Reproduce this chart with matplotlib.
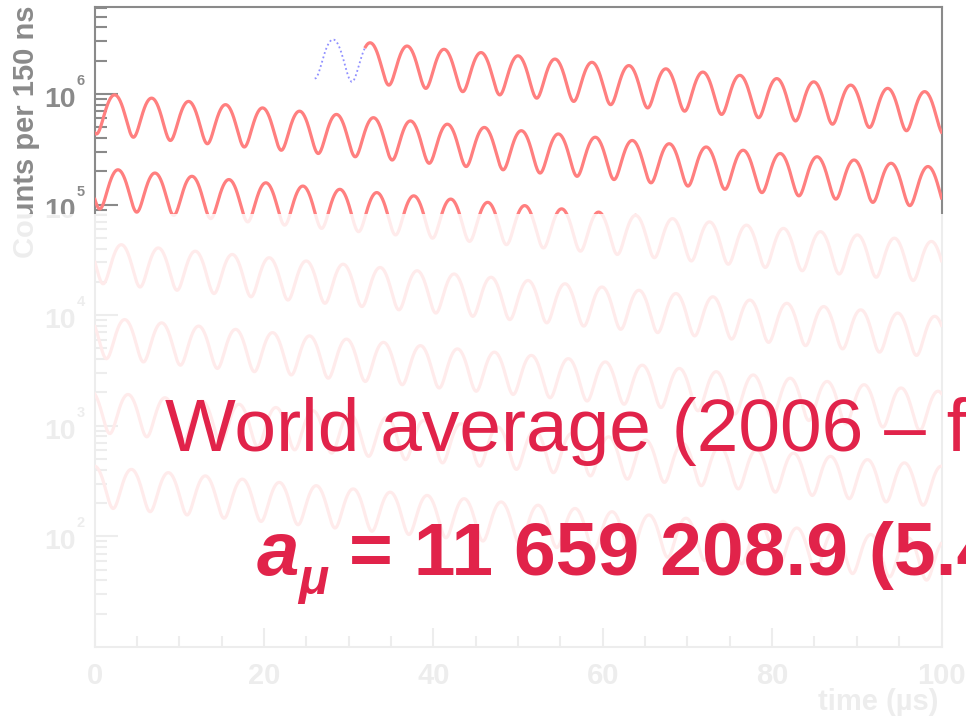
import numpy as np
import matplotlib
matplotlib.use("Agg")
import matplotlib.pyplot as plt
from matplotlib.patches import Rectangle
from matplotlib.ticker import LogLocator, MultipleLocator, NullFormatter

# wiggle fit parameters
n0 = 3.43e6          # counts per 150 ns bin at t = 0
tau_us = 64.4        # dilated muon lifetime
asym = 0.40
period_us = 4.365    # g-2 precession period
t_peak_us = 102.4    # time of one of the maxima
t_data_start = 26.0
t_fit_start = 32.0
t_end = 700.0
bin_us = 0.150
row_us = 100.0

x_ticks = [0, 20, 40, 60, 80, 100]
y_ticks = [1e2, 1e3, 1e4, 1e5, 1e6]
y_tick_exps = ["2", "3", "4", "5", "6"]
y_range = (10, 6.1e6)

title_line = "World average (2006 \u2013 final)"
value_line = "= 11 659 208.9 (5.4) (3.3) \u00d7 10\u207b\u00b9\u2070"
ref_line = "E821: Phys. Rev. D73, 072003 (2006)"

plt.rcParams["font.family"] = ["Liberation Sans", "DejaVu Sans"]

GREY = "#8a8a8a"
RED = "#ff7f7f"
BLUE = "#8f8fff"
CRIMSON = "#e1234a"
W, H = 966, 716


def counts(t):
    return n0 * np.exp(-t / tau_us) * (1 + asym * np.cos(2 * np.pi * (t - t_peak_us) / period_us))


fig = plt.figure(figsize=(W / 100, H / 100), dpi=100)
ax = fig.add_axes([94.5 / W, 1 - 647 / H, 847 / W, 640 / H])

t_data = np.arange(t_data_start, t_end, bin_us)
t_fit = np.arange(t_fit_start, t_end, 0.05)
n_rows = int(np.ceil(t_end / row_us))
for r in range(n_rows):
    lo, hi = r * row_us, (r + 1) * row_us
    m = (t_data >= lo) & (t_data <= hi)
    if m.any():
        ax.plot(t_data[m] - lo, counts(t_data[m]), color=BLUE, lw=1.3,
                ls=(0, (1, 1.5)), zorder=2)
    m = (t_fit >= lo) & (t_fit <= hi)
    if m.any():
        ax.plot(t_fit[m] - lo, counts(t_fit[m]), color=RED, lw=2.3, zorder=3)

ax.set_yscale("log")
ax.set_xlim(0, row_us)
ax.set_ylim(*y_range)
ax.set_xticks(x_ticks)
ax.set_xticklabels([str(v) for v in x_ticks])
ax.xaxis.set_minor_locator(MultipleLocator(5))
ax.set_yticks(y_ticks)
ax.set_yticklabels([])
ax.yaxis.set_minor_locator(LogLocator(base=10, subs=np.arange(2, 10), numticks=50))
ax.yaxis.set_minor_formatter(NullFormatter())

for s in ax.spines.values():
    s.set_color(GREY)
    s.set_linewidth(1.5)
ax.tick_params(which="both", direction="in", color=GREY, width=1.5,
               top=False, right=False)
ax.tick_params(axis="y", which="major", length=16.5, pad=6)
ax.tick_params(axis="y", which="minor", length=8.5)
ax.tick_params(axis="x", which="major", length=13.5, pad=11)
ax.tick_params(axis="x", which="minor", length=8)
for lab in ax.get_xticklabels():
    lab.set_color(GREY)
    lab.set_fontsize(21)
    lab.set_fontweight("bold")

# ROOT-style "10^n" labels: big mantissa, small exponent
ytf = ax.get_yaxis_transform()
for val, ex in zip(y_ticks, y_tick_exps):
    ax.annotate("10", xy=(0, val), xycoords=ytf, xytext=(-19, -13),
                textcoords="offset pixels", ha="right", va="baseline",
                fontsize=20.5, fontweight="bold", color=GREY, annotation_clip=False)
    ax.annotate(ex, xy=(0, val), xycoords=ytf, xytext=(-18, 9),
                textcoords="offset pixels", ha="left", va="baseline",
                fontsize=10.5, fontweight="bold", color=GREY, annotation_clip=False)

fig.text(26 / W, 1 - 5 / H, "Counts per 150 ns", rotation=90, ha="center", va="top",
         fontsize=21, fontweight="bold", color=GREY)
fig.text(938 / W, 1 - 710 / H, "time (\u00b5s)", ha="right", va="baseline",
         fontsize=21, fontweight="bold", color=GREY)

# white veil over the lower part of the plot
veil = Rectangle((0, 0), 1, 1 - 214 / H, transform=fig.transFigure,
                 facecolor="white", edgecolor="none", alpha=0.85, zorder=5)
fig.add_artist(veil)

fig.text(165 / W, 1 - 451 / H, title_line, ha="left", va="baseline",
         fontsize=54, color=CRIMSON, zorder=10)
fig.text(257 / W, 1 - 575 / H, "a", ha="left", va="baseline", fontsize=55,
         fontweight="bold", fontstyle="italic", color=CRIMSON, zorder=10)
fig.text(298 / W, 1 - 594 / H, "\u03bc", ha="left", va="baseline", fontsize=36,
         fontweight="bold", fontstyle="italic", color=CRIMSON, zorder=10)
fig.text(349 / W, 1 - 575 / H, value_line, ha="left", va="baseline", fontsize=54,
         fontweight="bold", color=CRIMSON, zorder=10)
fig.text(-16 / W, 1 - 735 / H, ref_line, ha="left", va="baseline", fontsize=19,
         color=CRIMSON, zorder=10)

fig.savefig("out.png", dpi=100)
